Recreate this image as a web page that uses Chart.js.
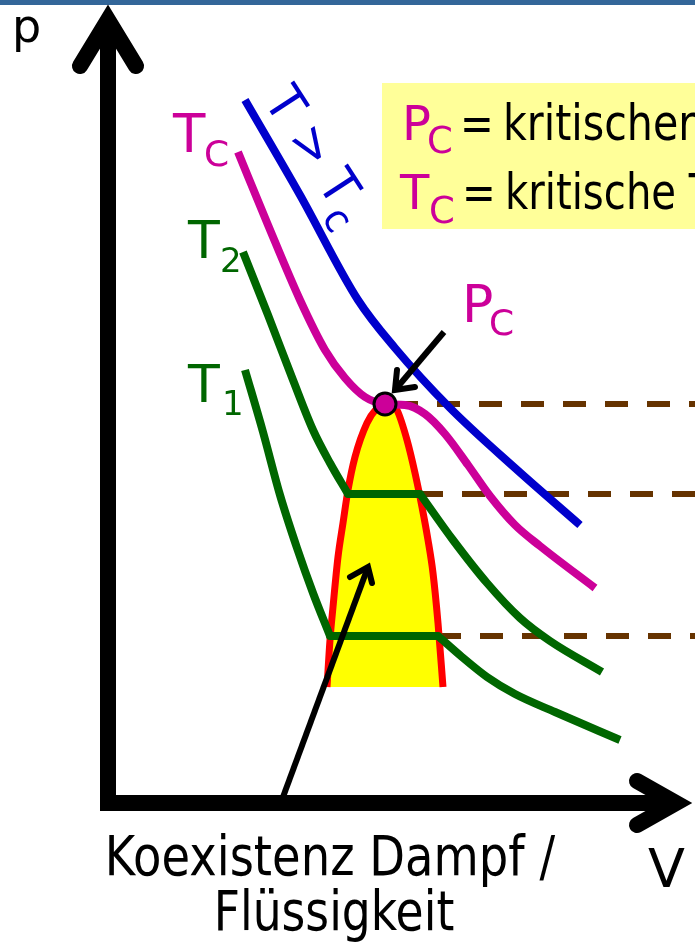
<!DOCTYPE html>
<html>
<head>
<meta charset="utf-8">
<script src="https://cdn.jsdelivr.net/npm/chart.js@4"></script>
<style>
  html, body { margin: 0; padding: 0; background: #fff; }
  canvas { display: block; }
</style>
</head>
<body>
<canvas id="chart" width="695" height="945"></canvas>
<script>
// Van-der-Waals isotherms, values
// V to the right, p up, origin at the corner of the axes
const blueV = [137, 192, 250, 287, 342, 407, 472];
const blueP = [703, 608, 503, 455, 395, 335, 278];

const tcV = [130, 160, 192, 217, 237, 257, 277, 297, 317, 337, 360, 382, 407, 432, 487];
const tcP = [651, 578, 503, 453, 425, 406, 399, 398, 389, 369, 338, 307, 278, 257, 215];

const t2V = [135, 160, 185, 205, 222, 240, 312, 345, 379, 412, 442, 494];
const t2P = [551, 488, 423, 373, 340, 309, 309, 263, 220, 185, 162, 131];
const t2Flat = [5, 6];   // index of the two ends of the plateau

const t1V = [137, 155, 172, 189, 205, 222, 330, 354, 379, 407, 447, 512];
const t1P = [433, 371, 308, 255, 210, 167, 167, 146, 126, 109, 91, 63];
const t1Flat = [5, 6];

// coexistence dome (red border, yellow inside)
const domeV = [219, 222, 225, 230, 235, 240, 247, 259, 269, 277, 285, 289, 299, 307, 314, 320, 325, 330, 335];
const domeP = [116, 163, 196, 246, 280, 313, 346, 380, 395, 401, 397, 393, 363, 330, 296, 263, 230, 180, 116];
const domeBase = 116;

// critical point
const critV = [277];
const critP = [399];

// dashed tie lines to the right edge
const tieP = [399, 309, 167];
const tieStartV = [287, 312, 330];
const tieEndV = 587;

const pts = (vs, ps) => vs.map((v, i) => ({ x: v, y: ps[i] }));

const curve = (vs, ps, color, order) => ({
  data: pts(vs, ps),
  borderColor: color,
  borderWidth: 8,
  pointRadius: 0,
  cubicInterpolationMode: 'monotone',
  borderCapStyle: 'butt',
  fill: false,
  order: order
});

// isotherm with a flat part: left branch, plateau, right branch
const isotherm = (vs, ps, flat, color, order) => {
  const [a, b] = flat;
  const plateau = curve(vs.slice(a, b + 1), ps.slice(a, b + 1), color, order);
  plateau.borderCapStyle = 'round';
  return [
    curve(vs.slice(0, a + 1), ps.slice(0, a + 1), color, order),
    plateau,
    curve(vs.slice(b), ps.slice(b), color, order)
  ];
};

const stroke = (vs, ps, width, cap, order) => ({
  data: pts(vs, ps),
  borderColor: '#000',
  borderWidth: width,
  pointRadius: 0,
  tension: 0,
  borderCapStyle: cap,
  borderJoinStyle: 'miter',
  fill: false,
  order: order
});

const datasets = [];

tieP.forEach((p, i) => {
  datasets.push({
    data: pts([tieStartV[i], tieEndV], [p, p]),
    borderColor: '#663300',
    borderWidth: 6,
    borderDash: [23, 19],
    pointRadius: 0,
    fill: false,
    order: 20
  });
});

datasets.push({
  data: pts(domeV, domeP),
  borderColor: '#ff0000',
  backgroundColor: '#ffff00',
  borderWidth: 7,
  pointRadius: 0,
  cubicInterpolationMode: 'monotone',
  fill: { value: domeBase },
  order: 15
});

datasets.push(...isotherm(t1V, t1P, t1Flat, '#006600', 12));
datasets.push(...isotherm(t2V, t2P, t2Flat, '#006600', 11));
datasets.push(curve(tcV, tcP, '#cc0099', 10));
datasets.push(curve(blueV, blueP, '#0000cc', 9));

// axes with arrow heads
datasets.push(stroke([0, 0], [-8, 783], 16, 'butt', 5));
datasets.push(stroke([-28, 0, 28], [737, 783, 737], 16, 'round', 5));
datasets.push(stroke([-8, 568], [0, 0], 16, 'butt', 5));
datasets.push(stroke([529, 568, 529], [22, 0, -22], 16, 'round', 5));

// pointer arrows
datasets.push(stroke([336, 287], [471, 413], 6, 'butt', 4));
datasets.push(stroke([289, 287, 307], [433, 413, 416], 6, 'round', 4));
datasets.push(stroke([175, 260], [6, 236], 6, 'butt', 4));
datasets.push(stroke([242, 260, 264], [226, 236, 220], 6, 'round', 4));

datasets.push({
  data: pts(critV, critP),
  showLine: false,
  pointRadius: 11,
  pointBackgroundColor: '#cc0099',
  pointBorderColor: '#000',
  pointBorderWidth: 3,
  order: 1
});

// text labels (position in chart units, baseline left unless centered)
const labels = [
  { t: 'p', v: -96, p: 761, size: 46, color: '#000' },
  { t: 'T', v: 65, p: 651, size: 53, color: '#cc0099' },
  { t: 'C', v: 96, p: 637, size: 36, color: '#cc0099' },
  { t: 'T', v: 80, p: 545, size: 52, color: '#006600' },
  { t: '2', v: 112, p: 531, size: 34, color: '#006600' },
  { t: 'T', v: 80, p: 401, size: 52, color: '#006600' },
  { t: '1', v: 114, p: 388, size: 34, color: '#006600' },
  { t: 'P', v: 354, p: 481, size: 52, color: '#cc0099' },
  { t: 'C', v: 381, p: 468, size: 36, color: '#cc0099' },
  { t: 'P', v: 294, p: 663, size: 48, color: '#cc0099' },
  { t: 'C', v: 319, p: 650, size: 37, color: '#cc0099' },
  { t: '=', v: 352, p: 663, size: 48, color: '#000', sx: 0.84 },
  { t: 'kritischer Druck', v: 395, p: 663, size: 49, color: '#000', sx: 0.84 },
  { t: 'T', v: 292, p: 594, size: 48, color: '#cc0099' },
  { t: 'C', v: 321, p: 580, size: 37, color: '#cc0099' },
  { t: '=', v: 354, p: 594, size: 48, color: '#000', sx: 0.84 },
  { t: 'kritische Temperatur', v: 397, p: 594, size: 49, color: '#000', sx: 0.82 },
  { t: 'Koexistenz Dampf /', v: 222, p: -72, size: 55, color: '#000', sx: 0.845, center: true },
  { t: 'Flüssigkeit', v: 226, p: -127, size: 55, color: '#000', sx: 0.83, center: true },
  { t: 'V', v: 540, p: -84, size: 54, color: '#000' }
];

const diagramExtras = {
  id: 'diagramExtras',
  beforeDatasetsDraw(chart) {
    const { ctx, scales: { x, y } } = chart;
    ctx.save();
    // blue band at the top of the slide
    ctx.fillStyle = '#336699';
    ctx.fillRect(0, 0, chart.width, 5);
    // yellow legend box
    ctx.fillStyle = '#ffff99';
    const bx = x.getPixelForValue(274), by = y.getPixelForValue(720);
    ctx.fillRect(bx, by, chart.width - bx, y.getPixelForValue(574) - by);
    ctx.restore();
  },
  afterDatasetsDraw(chart) {
    const { ctx, scales: { x, y } } = chart;
    labels.forEach(l => {
      ctx.save();
      ctx.font = l.size + 'px "DejaVu Sans"';
      ctx.fillStyle = l.color;
      ctx.textBaseline = 'alphabetic';
      ctx.textAlign = l.center ? 'center' : 'left';
      ctx.translate(x.getPixelForValue(l.v), y.getPixelForValue(l.p));
      ctx.scale(l.sx || 1, 1);
      ctx.fillText(l.t, 0, 0);
      ctx.restore();
    });
    // "T > Tc" written along the hot isotherm
    ctx.save();
    ctx.fillStyle = '#0000cc';
    ctx.translate(x.getPixelForValue(155), y.getPixelForValue(702));
    ctx.rotate(57 * Math.PI / 180);
    ctx.scale(0.93, 1);
    ctx.font = '51px "DejaVu Sans"';
    const s = 'T > T';
    ctx.fillText(s, 0, 0);
    const w = ctx.measureText(s).width;
    ctx.font = '40px "DejaVu Sans"';
    ctx.fillText('c', w + 2, 15);
    ctx.restore();
  }
};

new Chart(document.getElementById('chart'), {
  type: 'line',
  data: { datasets: datasets },
  options: {
    responsive: false,
    animation: false,
    events: [],
    layout: { padding: 0, autoPadding: false },
    plugins: { legend: { display: false }, tooltip: { enabled: false } },
    scales: {
      x: { type: 'linear', min: -108, max: 587, display: false },
      y: { type: 'linear', min: -142, max: 803, display: false }
    }
  },
  plugins: [diagramExtras]
});
</script>
</body>
</html>
